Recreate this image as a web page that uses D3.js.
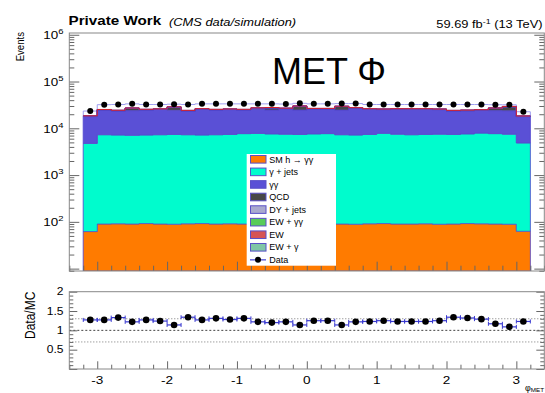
<!DOCTYPE html>
<html>
<head>
<meta charset="utf-8">
<script src="https://cdn.jsdelivr.net/npm/d3@7"></script>
<style>
  html, body { margin: 0; padding: 0; background: #fff; }
  svg { display: block; }
  text { font-family: "Liberation Sans", Arial, Helvetica, sans-serif; fill: #000; }
</style>
</head>
<body>
<svg id="chart" width="545" height="393"></svg>
<script>
// ---- binning: MET phi, 32 bins of width 0.2 between -3.2 and 3.2 ----
const binCenters = [-3.1, -2.9, -2.7, -2.5, -2.3, -2.1, -1.9, -1.7, -1.5, -1.3, -1.1, -0.9, -0.7, -0.5, -0.3, -0.1,
                     0.1,  0.3,  0.5,  0.7,  0.9,  1.1,  1.3,  1.5,  1.7,  1.9,  2.1,  2.3,  2.5,  2.7,  2.9,  3.1];
const binWidth = 0.2;

// ---- simulated backgrounds / signal (events per bin) ----
const smHgg      = [62, 90, 91, 90, 92, 90, 89, 91, 92, 90, 91, 90, 89, 90, 91, 90,
                    92, 91, 90, 89, 91, 92, 90, 90, 91, 89, 90, 92, 91, 90, 89, 63];
const gammaJets  = [4700, 7200, 7100, 7000, 7100, 7200, 7300, 7200, 7100, 7200, 7300, 7600, 7700, 7500, 7400, 7300,
                    7500, 7600, 7200, 7100, 7300, 7700, 7400, 7200, 7300, 7400, 7300, 7500, 7800, 7600, 7400, 4800];
const diphoton   = [13100, 17170, 16350, 16900, 17500, 17940, 16900, 16090, 18290, 17330, 17740, 16930, 17900, 17000, 18670, 17200,
                    18250, 18150, 17300, 19620, 18030, 17250, 17930, 18130, 18030, 17550, 15990, 16120, 16290, 16300, 16300, 12870];
const qcd        = [200, 250, 250, 2660, 250, 250, 3980, 250, 250, 250, 250, 250, 1170, 2660, 250, 4910,
                    250, 250, 4560, 250, 250, 250, 250, 250, 250, 250, 250, 250, 250, 2680, 5030, 200];
const dyJets     = [130, 180, 175, 185, 180, 178, 182, 176, 181, 179, 183, 180, 177, 184, 180, 182,
                    179, 181, 178, 183, 180, 177, 182, 179, 181, 180, 178, 183, 180, 177, 181, 128];
const ewDiphoton = [30, 40, 41, 39, 40, 42, 38, 40, 41, 39, 40, 40, 42, 39, 40, 41,
                    38, 40, 40, 42, 39, 40, 41, 40, 39, 40, 42, 38, 40, 41, 40, 29];
const ew         = [170, 220, 218, 223, 221, 219, 224, 220, 222, 218, 221, 220, 223, 219, 221, 220,
                    222, 218, 221, 220, 219, 223, 220, 221, 218, 222, 220, 219, 221, 223, 220, 168];
const ewGamma    = [80, 110, 108, 112, 110, 111, 109, 110, 112, 108, 110, 111, 109, 110, 112, 110,
                    108, 111, 110, 109, 112, 110, 111, 108, 110, 111, 109, 110, 112, 110, 109, 82];

// ---- observed data and data/MC ratio ----
const dataCounts = [23400, 32000, 32300, 33300, 32300, 32300, 32800, 32300, 33300, 33300, 33300, 33300, 33300, 33300, 33000, 34200,
                    33300, 33300, 33800, 33800, 32300, 32300, 32300, 32300, 32300, 32300, 32300, 32300, 32300, 31900, 31900, 22600];
const ratio      = [1.27, 1.27, 1.33, 1.22, 1.27, 1.24, 1.14, 1.34, 1.27, 1.31, 1.28, 1.31, 1.22, 1.20, 1.22, 1.14,
                    1.25, 1.25, 1.14, 1.22, 1.23, 1.25, 1.23, 1.23, 1.23, 1.25, 1.34, 1.32, 1.29, 1.17, 1.09, 1.23];

// ---- legend / process names and tick labels ----
const processKeys   = ["smHgg", "gammaJets", "diphoton", "qcd", "dyJets", "ewDiphoton", "ew", "ewGamma"];
const processLabels = ["SM h \u2192 \u03B3\u03B3", "\u03B3 + jets", "\u03B3\u03B3", "QCD", "DY + jets", "EW + \u03B3\u03B3", "EW", "EW + \u03B3"];
const processColors = ["#ff7b00", "#00fccd", "#5a50d6", "#474747", "#a9a9cf", "#58cc58", "#d65454", "#7fc6a6"];
const xTickValues   = [-3, -2, -1, 0, 1, 2, 3];
const yTopDecades   = [2, 3, 4, 5, 6];
const ratioTickValues = [0.5, 1, 1.5, 2];
const ratioGuides   = [0.7, 1.0, 1.3];

// ---- layout ----
const svg = d3.select("#chart");
const fL = 69.3, fR = 544.3;
const topT = 33, topB = 271;
const ratT = 291.7, ratB = 369;
const SX = 1.18;   // horizontal text stretch of the canvas fonts

const x = d3.scaleLinear().domain([-3.4, 3.4]).range([fL, fR]);
const yMin = 8.9, yMax = 1.09e6;
const y = d3.scaleLog().domain([yMin, yMax]).range([topB, topT]);
const yr = d3.scaleLinear().domain([0, 2]).range([ratB, ratT]);

function hText(g, px, py, str, opt = {}) {
  const t = g.append("text")
    .attr("transform", `translate(${px},${py}) scale(${opt.sx ?? SX},1)`)
    .attr("text-anchor", opt.anchor || "start")
    .style("font-size", (opt.size || 11) + "px");
  if (opt.weight) t.style("font-weight", opt.weight);
  if (opt.italic) t.style("font-style", "italic");
  if (str !== null) t.text(str);
  return t;
}

// ---- header ----
hText(svg, 68.5, 25, "Private Work", {size: 12.9, weight: "bold"});
hText(svg, 169, 26, "(CMS data/simulation)", {size: 10.9, italic: true});
const lumi = hText(svg, 542.5, 27.5, null, {size: 10.9, anchor: "end"});
lumi.append("tspan").text("59.69 fb");
lumi.append("tspan").attr("dy", -4).style("font-size", "7.5px").text("-1");
lumi.append("tspan").attr("dy", 4).text(" (13 TeV)");

// ---- top panel ----
svg.append("clipPath").attr("id", "clipTop")
  .append("rect").attr("x", fL).attr("y", topT).attr("width", fR - fL).attr("height", topB - topT);
const gTop = svg.append("g").attr("clip-path", "url(#clipTop)");

const rows = binCenters.map((c, i) => ({
  c, smHgg: smHgg[i], gammaJets: gammaJets[i], diphoton: diphoton[i], qcd: qcd[i],
  dyJets: dyJets[i], ewDiphoton: ewDiphoton[i], ew: ew[i], ewGamma: ewGamma[i]
}));
const stacked = d3.stack().keys(processKeys)(rows);
const clampY = v => y(Math.max(v, yMin));
const lastIdx = binCenters.length - 1;
const stepPts = (vals) => {
  const pts = vals.map((v, i) => ({xv: binCenters[i] - binWidth / 2, v}));
  pts.push({xv: binCenters[lastIdx] + binWidth / 2, v: vals[lastIdx]});
  return pts;
};

// data outline (light step line), drawn below the stack
const dataOutline = [{xv: binCenters[0] - binWidth / 2, v: yMin}]
  .concat(stepPts(dataCounts))
  .concat([{xv: binCenters[lastIdx] + binWidth / 2, v: yMin}]);
gTop.append("path")
  .attr("d", d3.line().x(d => x(d.xv)).y(d => clampY(d.v)).curve(d3.curveStepAfter)(dataOutline))
  .attr("fill", "none").attr("stroke", "#9e9ef0").attr("stroke-width", 1);

// stacked processes
const area = d3.area().x(d => x(d.xv)).y0(d => clampY(d.lo)).y1(d => clampY(d.hi)).curve(d3.curveStepAfter);
stacked.forEach((series, k) => {
  const pts = series.map((p, i) => ({xv: binCenters[i] - binWidth / 2, lo: p[0], hi: p[1]}));
  const lp = series[lastIdx];
  pts.push({xv: binCenters[lastIdx] + binWidth / 2, lo: lp[0], hi: lp[1]});
  gTop.append("path").attr("d", area(pts))
    .attr("fill", processColors[k])
    .attr("stroke", "#5548cc").attr("stroke-width", 0.7);
});

// red line along the top of the stack
const totals = stacked[stacked.length - 1].map(p => p[1]);
gTop.append("path")
  .attr("d", d3.line().x(d => x(d.xv)).y(d => clampY(d.v)).curve(d3.curveStepAfter)(stepPts(totals)))
  .attr("fill", "none").attr("stroke", "#d8202a").attr("stroke-width", 1);

// data points
gTop.selectAll("circle.data").data(binCenters).join("circle")
  .attr("class", "data")
  .attr("cx", c => x(c)).attr("cy", (c, i) => y(dataCounts[i])).attr("r", 3)
  .attr("fill", "#000");

// "MET Φ" label
svg.append("text").attr("x", 272).attr("y", 83.5)
  .style("font-size", "36px").text("MET \u03A6");

// top frame + axes
const axisColor = "#666";
function styleAxis(g) {
  g.select(".domain").remove();
  g.selectAll("line").attr("stroke", axisColor);
  g.selectAll("text").remove();
}
const yMinorTicks = [];
[0, 1, 2, 3, 4, 5].forEach(e => [2, 3, 4, 5, 6, 7, 8, 9].forEach(m => {
  const v = m * Math.pow(10, e);
  if (v > yMin && v < yMax) yMinorTicks.push(v);
}));
const yMajorTicks = [1, 2, 3, 4, 5, 6].map(e => Math.pow(10, e));
svg.append("g").attr("transform", `translate(${fL},0)`)
  .call(d3.axisLeft(y).tickValues(yMinorTicks).tickSize(-5).tickFormat("")).call(styleAxis);
svg.append("g").attr("transform", `translate(${fL},0)`)
  .call(d3.axisLeft(y).tickValues(yMajorTicks).tickSize(-10).tickFormat("")).call(styleAxis);
svg.append("g").attr("transform", `translate(${fR},0)`)
  .call(d3.axisRight(y).tickValues(yMinorTicks).tickSize(-5).tickFormat("")).call(styleAxis);
svg.append("g").attr("transform", `translate(${fR},0)`)
  .call(d3.axisRight(y).tickValues(yMajorTicks).tickSize(-10).tickFormat("")).call(styleAxis);

const xMinorTicks = x.ticks(34).filter(v => !xTickValues.some(t => Math.abs(t - v) < 1e-6));
svg.append("g").attr("transform", `translate(0,${topB})`)
  .call(d3.axisBottom(x).tickValues(xMinorTicks).tickSize(-5.3).tickFormat("")).call(styleAxis);
svg.append("g").attr("transform", `translate(0,${topB})`)
  .call(d3.axisBottom(x).tickValues(xTickValues).tickSize(-9.3).tickFormat("")).call(styleAxis);

svg.append("rect").attr("x", fL).attr("y", topT).attr("width", fR - fL).attr("height", topB - topT)
  .attr("fill", "none").attr("stroke", "#888").attr("stroke-width", 1);

// top y labels 10^k
yTopDecades.forEach(k => {
  const t = hText(svg, 63.5, y(Math.pow(10, k)) + 4.2, null, {size: 11.4, anchor: "end"});
  t.append("tspan").text("10");
  t.append("tspan").attr("dy", -5).style("font-size", "8px").text(String(k));
});

// y title
svg.append("text")
  .attr("transform", `translate(24,32) rotate(-90) scale(1,${SX})`)
  .attr("text-anchor", "end").style("font-size", "9.6px").text("Events");

// ---- legend ----
const leg = svg.append("g");
const legX = 246.7, legY = 154, legW = 89.3, legH = 111.7;
leg.append("rect").attr("x", legX).attr("y", legY).attr("width", legW).attr("height", legH).attr("fill", "#fff");
const rowPitch = 12.57, row0 = 159.3;
processLabels.forEach((lab, i) => {
  const cy = row0 + i * rowPitch;
  leg.append("rect").attr("x", 250.5).attr("y", cy - 3.8).attr("width", 15.5).attr("height", 7.6)
    .attr("fill", processColors[i]).attr("stroke", "#5a50c8").attr("stroke-width", 1);
  leg.append("text").attr("x", 269.3).attr("y", cy + 3.2).style("font-size", "9px").text(lab);
});
{
  const cy = row0 + processLabels.length * rowPitch;
  leg.append("line").attr("x1", 250).attr("x2", 266).attr("y1", cy).attr("y2", cy)
    .attr("stroke", "#4040d0").attr("stroke-width", 1.2);
  leg.append("circle").attr("cx", 258).attr("cy", cy).attr("r", 3).attr("fill", "#000");
  leg.append("text").attr("x", 269.3).attr("y", cy + 3.2).style("font-size", "9px").text("Data");
}

// ---- ratio panel ----
const gR = svg.append("g");
ratioGuides.forEach(v => {
  gR.append("line").attr("x1", fL).attr("x2", fR).attr("y1", yr(v)).attr("y2", yr(v))
    .attr("stroke", v === 1 ? "#444" : "#777").attr("stroke-width", 1)
    .attr("stroke-dasharray", v === 1 ? "2,2" : "1,2");
});
binCenters.forEach((c, i) => {
  const yy = yr(ratio[i]);
  const x0 = x(c - binWidth / 2), x1 = x(c + binWidth / 2);
  gR.append("line").attr("x1", x0).attr("x2", x1).attr("y1", yy).attr("y2", yy)
    .attr("stroke", "#3a3ad0").attr("stroke-width", 1.2);
  [x0, x1].forEach(xe => gR.append("line").attr("x1", xe).attr("x2", xe).attr("y1", yy - 2).attr("y2", yy + 2)
    .attr("stroke", "#3a3ad0").attr("stroke-width", 1));
  gR.append("circle").attr("cx", x(c)).attr("cy", yy).attr("r", 3.3).attr("fill", "#000");
});

const ratioMinor = yr.ticks(20).filter(v => !ratioTickValues.some(t => Math.abs(t - v) < 1e-6) && v > 0);
const ratioMajor = [0].concat(ratioTickValues);
svg.append("g").attr("transform", `translate(${fL},0)`)
  .call(d3.axisLeft(yr).tickValues(ratioMinor).tickSize(-4).tickFormat("")).call(styleAxis);
svg.append("g").attr("transform", `translate(${fL},0)`)
  .call(d3.axisLeft(yr).tickValues(ratioMajor).tickSize(-8).tickFormat("")).call(styleAxis);
svg.append("g").attr("transform", `translate(${fR},0)`)
  .call(d3.axisRight(yr).tickValues(ratioMinor).tickSize(-4).tickFormat("")).call(styleAxis);
svg.append("g").attr("transform", `translate(${fR},0)`)
  .call(d3.axisRight(yr).tickValues(ratioMajor).tickSize(-8).tickFormat("")).call(styleAxis);
svg.append("g").attr("transform", `translate(0,${ratB})`)
  .call(d3.axisBottom(x).tickValues(xMinorTicks).tickSize(-4.3).tickFormat("")).call(styleAxis);
svg.append("g").attr("transform", `translate(0,${ratB})`)
  .call(d3.axisBottom(x).tickValues(xTickValues).tickSize(-7.7).tickFormat("")).call(styleAxis);
svg.append("rect").attr("x", fL).attr("y", ratT).attr("width", fR - fL).attr("height", ratB - ratT)
  .attr("fill", "none").attr("stroke", "#888").attr("stroke-width", 1);

ratioTickValues.forEach(v => {
  hText(svg, 63.5, yr(v) + 3.6, String(v), {size: 10.2, anchor: "end"});
});
xTickValues.forEach(v => {
  hText(svg, x(v), 384.3, v < 0 ? "-" + Math.abs(v) : String(v), {size: 11.5, anchor: "middle"});
});

svg.append("text")
  .attr("transform", `translate(35,291.7) rotate(-90) scale(1,${SX})`)
  .attr("text-anchor", "end").style("font-size", "12px").text("Data/MC");

// x title, tucked into the lower right corner
const xt = hText(svg, 544, 390.5, null, {size: 8.5, anchor: "end", sx: 1.05});
xt.append("tspan").text("\u03C6");
xt.append("tspan").attr("dy", 1.2).style("font-size", "6px").text("MET");
</script>
</body>
</html>
